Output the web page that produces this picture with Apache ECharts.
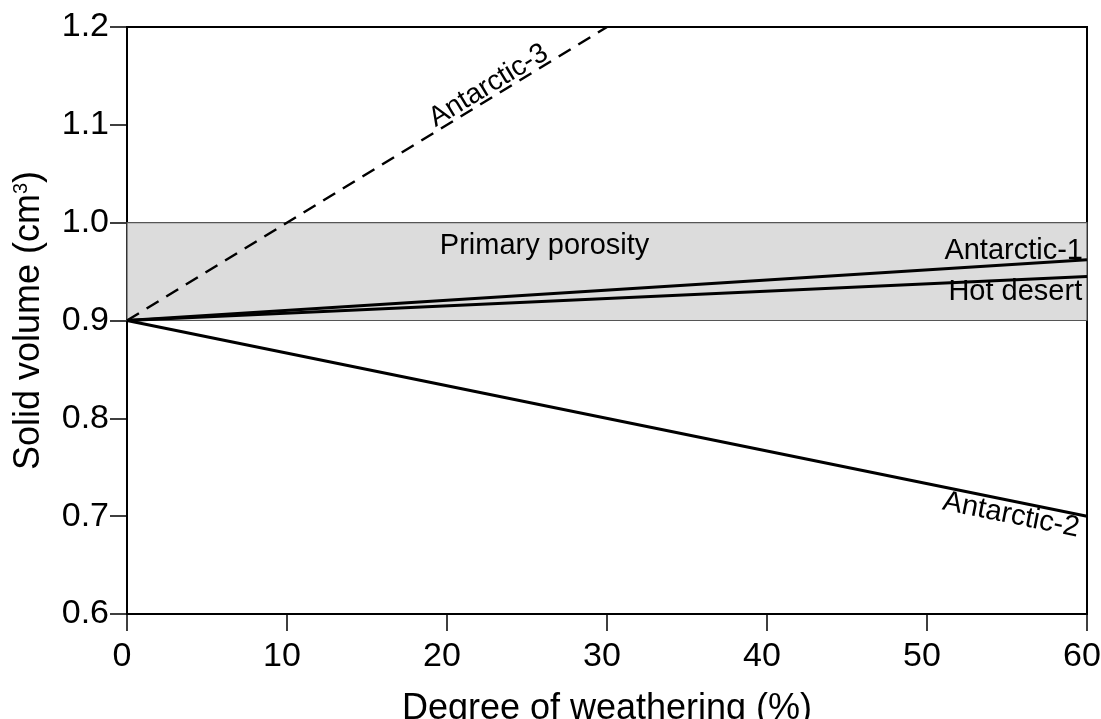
<!DOCTYPE html>
<html>
<head>
<meta charset="utf-8">
<script src="https://cdn.jsdelivr.net/npm/echarts@6/dist/echarts.min.js"></script>
<style>
  html, body { margin: 0; padding: 0; background: #fff; }
  #chart { width: 1101px; height: 719px; }
</style>
</head>
<body>
<div id="chart"></div>
<script>
// weathering degree (%) at line ends
const antarctic1 = [[0, 0.9], [60, 0.962]]
const hotDesert = [[0, 0.9], [60, 0.945]]
const antarctic2 = [[0, 0.9], [60, 0.70]]
const antarctic3 = [[0, 0.9], [30, 1.2]]
// primary porosity band
const porosityBand = [0.9, 1.0]
const xTicks = [0, 10, 20, 30, 40, 50, 60]
const yTicks = [0.6, 0.7, 0.8, 0.9, 1.0, 1.1, 1.2]

const chart = echarts.init(document.getElementById("chart"))
const font = "Liberation Sans, Arial, sans-serif"

const lineStyle = { color: "#000", width: 3 }
const labelBase = { show: true, fontFamily: font, fontSize: 29, color: "#000" }

const option = {
    animation: false,
    grid: {
        left: 127,
        right: 14,
        top: 27,
        bottom: 105,
        outerBoundsMode: "none",
        show: true,
        borderColor: "#000",
        borderWidth: 2,
        backgroundColor: "transparent"
    },
    xAxis: {
        type: "value",
        min: xTicks[0],
        max: xTicks[xTicks.length - 1],
        interval: 10,
        name: "Degree of weathering (%)",
        nameLocation: "middle",
        nameGap: 77,
        nameTextStyle: { fontFamily: font, fontSize: 36, color: "#000" },
        axisLine: { show: true, lineStyle: { color: "#000", width: 2 } },
        axisTick: { show: true, length: 17, lineStyle: { color: "#000", width: 1.5 } },
        axisLabel: { fontFamily: font, fontSize: 34, color: "#000", margin: 26, padding: [0, 10, 0, 0] },
        splitLine: { show: false }
    },
    yAxis: {
        type: "value",
        min: yTicks[0],
        max: yTicks[yTicks.length - 1],
        interval: 0.1,
        name: "{t|Solid volume (cm}{s|3}{t|)}",
        nameLocation: "middle",
        nameGap: 80,
        nameTextStyle: {
            rich: {
                t: { fontFamily: font, fontSize: 36, color: "#000" },
                s: { fontFamily: font, fontSize: 20, color: "#000", verticalAlign: "top", padding: [0, 0, 16, 0] }
            }
        },
        axisLine: { show: true, lineStyle: { color: "#000", width: 2 } },
        axisTick: { show: true, length: 17, lineStyle: { color: "#000", width: 1.5 } },
        axisLabel: {
            fontFamily: font, fontSize: 34, color: "#000", margin: 18,
            formatter: v => v.toFixed(1)
        },
        splitLine: { show: false }
    },
    series: [
        {
            name: "Antarctic-1",
            type: "line",
            data: antarctic1,
            symbol: "none",
            lineStyle: lineStyle,
            z: 3,
            markArea: {
                silent: true,
                itemStyle: { color: "#dcdcdc", borderColor: "#555", borderWidth: 1.2 },
                data: [[{ xAxis: 0, yAxis: porosityBand[0] }, { xAxis: 60, yAxis: porosityBand[1] }]]
            },
            markPoint: {
                symbol: "circle",
                symbolSize: 0,
                label: labelBase,
                data: [
                    { coord: [26.1, 0.976], label: { formatter: "Primary porosity" } },
                    { coord: [59.75, 0.971], label: { formatter: "Antarctic-1", align: "right" } }
                ]
            }
        },
        {
            name: "Hot desert",
            type: "line",
            data: hotDesert,
            symbol: "none",
            lineStyle: lineStyle,
            z: 3,
            markPoint: {
                symbol: "circle",
                symbolSize: 0,
                label: labelBase,
                data: [
                    { coord: [59.7, 0.929], label: { formatter: "Hot desert", align: "right" } }
                ]
            }
        },
        {
            name: "Antarctic-2",
            type: "line",
            data: antarctic2,
            symbol: "none",
            lineStyle: lineStyle,
            z: 3,
            markPoint: {
                symbol: "circle",
                symbolSize: 0,
                label: labelBase,
                data: [
                    { coord: [55.25, 0.701], label: { formatter: "Antarctic-2", rotate: -11.4 } }
                ]
            }
        },
        {
            name: "Antarctic-3",
            type: "line",
            data: antarctic3,
            symbol: "none",
            lineStyle: { color: "#000", width: 2.5, type: [14, 9] },
            z: 3,
            markPoint: {
                symbol: "circle",
                symbolSize: 0,
                label: Object.assign({}, labelBase, { fontSize: 28 }),
                data: [
                    { coord: [22.6, 1.140], label: { formatter: "Antarctic-3", rotate: 31.4 } }
                ]
            }
        }
    ]
}

chart.setOption(option, true)
</script>
</body>
</html>
